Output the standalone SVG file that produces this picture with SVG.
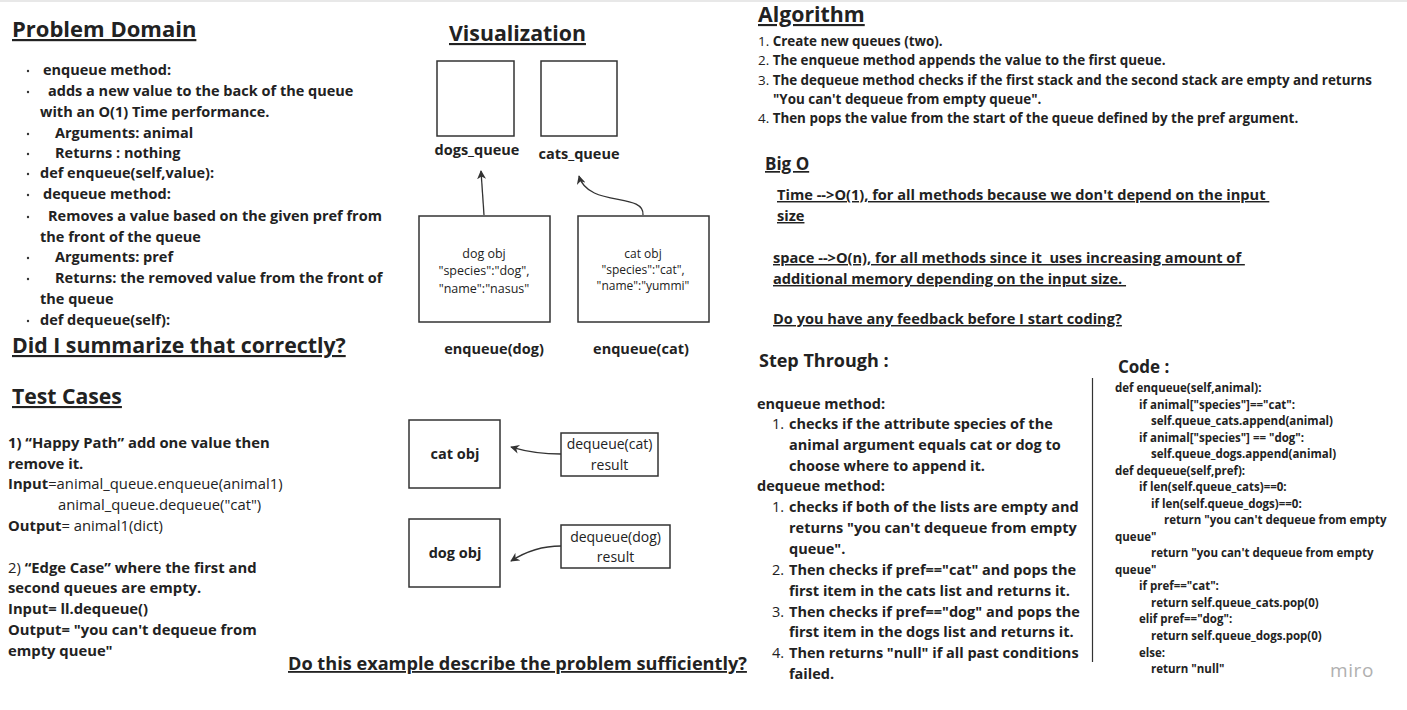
<svg xmlns="http://www.w3.org/2000/svg" width="1407" height="710" viewBox="0 0 1407 710">
<style>
text{font-family:"Open Sans","Noto Sans",sans-serif;fill:#222;}
.b{font-weight:700;}
.r{font-weight:400;}
.h1{font-size:22px;font-weight:700;text-decoration:underline;}
.h2{font-size:21px;font-weight:700;text-decoration:underline;}
.pd{font-size:14.5px;font-weight:700;}
.tc{font-size:14.8px;}
.alg{font-size:13.4px;}
.bo{font-size:14.6px;font-weight:700;text-decoration:underline;white-space:pre;}
.st{font-size:14.5px;}
.code{font-size:11.5px;font-weight:700;}
.box{fill:#fff;stroke:#333;stroke-width:1.5;}
.conn{fill:none;stroke:#333;stroke-width:1.3;}
.obj{font-size:12.5px;font-weight:400;}
.lbl{font-size:14.5px;font-weight:700;}
.dot{fill:#333;}
</style>
<defs>
<marker id="ah" viewBox="0 0 10 10" refX="9" refY="5" markerWidth="9" markerHeight="9" markerUnits="userSpaceOnUse" orient="auto">
<path d="M0,0 L10,5 L0,10 L3,5 z" fill="#333"/>
</marker>
</defs>
<rect x="0" y="0" width="1407" height="710" fill="#fff"/>
<rect x="0" y="0" width="1407" height="2" fill="#e8e8e8"/>

<g id="problem-domain">
<text x="12" y="37" class="h1">Problem Domain</text>
<g class="dot">
<circle cx="28" cy="71" r="1.2"/><circle cx="28" cy="92" r="1.2"/><circle cx="28" cy="134" r="1.2"/><circle cx="28" cy="154" r="1.2"/><circle cx="28" cy="174" r="1.2"/><circle cx="28" cy="195" r="1.2"/><circle cx="28" cy="217" r="1.2"/><circle cx="28" cy="258" r="1.2"/><circle cx="28" cy="279" r="1.2"/><circle cx="28" cy="321" r="1.2"/>
</g>
<text class="pd" x="43" y="75">enqueue method:</text>
<text class="pd" x="48" y="96">adds a new value to the back of the queue</text>
<text class="pd" x="40" y="117">with an O(1) Time performance.</text>
<text class="pd" x="55" y="138">Arguments: animal</text>
<text class="pd" x="55" y="158">Returns : nothing</text>
<text class="pd" x="40" y="178">def enqueue(self,value):</text>
<text class="pd" x="43" y="199">dequeue method:</text>
<text class="pd" x="48" y="221">Removes a value based on the given pref from</text>
<text class="pd" x="40" y="242">the front of the queue</text>
<text class="pd" x="55" y="262">Arguments: pref</text>
<text class="pd" x="55" y="283">Returns: the removed value from the front of</text>
<text class="pd" x="40" y="304">the queue</text>
<text class="pd" x="40" y="325">def dequeue(self):</text>
<text x="12" y="353" style="font-size:21.3px;font-weight:700;text-decoration:underline">Did I summarize that correctly?</text>
</g>

<g id="test-cases">
<text x="12" y="404" style="font-size:21.2px;font-weight:700;text-decoration:underline">Test Cases</text>
<text class="tc b" x="8" y="448"> 1) “Happy Path” add one value then</text>
<text class="tc b" x="8" y="469">remove it.</text>
<text class="tc" x="8" y="489"><tspan class="b">Input</tspan><tspan class="r">=animal_queue.enqueue(animal1)</tspan></text>
<text class="tc r" x="58" y="510">animal_queue.dequeue("cat")</text>
<text class="tc" x="8" y="531"><tspan class="b">Output</tspan><tspan class="r">= animal1(dict)</tspan></text>
<text class="tc" x="8" y="573"><tspan class="r">2) </tspan><tspan class="b">“Edge Case” where the first and</tspan></text>
<text class="tc b" x="8" y="593">second queues are empty.</text>
<text class="tc b" x="8" y="614">Input= ll.dequeue()</text>
<text class="tc b" x="8" y="635">Output= "you can't dequeue from</text>
<text class="tc b" x="8" y="656">empty queue"</text>
</g>

<g id="visualization">
<text x="449" y="41" style="font-size:21.3px;font-weight:700;text-decoration:underline">Visualization</text>
</g>
<g id="dogs-queue">
<rect class="box" x="437" y="61" width="77" height="75"/>
<text class="lbl" x="477" y="155" text-anchor="middle">dogs_queue</text>
</g>
<g id="cats-queue">
<rect class="box" x="541" y="61" width="76" height="75"/>
<text class="lbl" x="579" y="159" text-anchor="middle">cats_queue</text>
</g>
<g id="dog-obj-enqueue">
<rect class="box" x="419" y="216" width="131" height="106"/>
<text class="obj" x="484" y="258" text-anchor="middle">dog obj</text>
<text class="obj" x="484" y="275" text-anchor="middle">"species":"dog",</text>
<text class="obj" x="484" y="293" text-anchor="middle">"name":"nasus"</text>
<text class="lbl" x="494" y="354" text-anchor="middle">enqueue(dog)</text>
</g>
<g id="cat-obj-enqueue">
<rect class="box" x="578" y="216" width="131" height="106"/>
<text class="obj" x="643" y="258" text-anchor="middle" style="font-size:12px">cat obj</text>
<text class="obj" x="643" y="274" text-anchor="middle" style="font-size:12px">"species":"cat",</text>
<text class="obj" x="643" y="290" text-anchor="middle" style="font-size:12px">"name":"yummi"</text>
<text class="lbl" x="641" y="354" text-anchor="middle">enqueue(cat)</text>
</g>
<g id="cat-obj-result">
<rect class="box" x="409" y="420" width="91" height="68"/>
<text class="lbl" x="455" y="459" text-anchor="middle">cat obj</text>
</g>
<g id="dog-obj-result">
<rect class="box" x="409" y="519" width="91" height="68"/>
<text class="lbl" x="455" y="558" text-anchor="middle">dog obj</text>
</g>
<g id="dequeue-cat">
<rect class="box" x="561" y="433" width="97" height="43"/>
<text class="obj" x="609.5" y="449" text-anchor="middle" style="font-size:14px">dequeue(cat)</text>
<text class="obj" x="609.5" y="470" text-anchor="middle" style="font-size:14px">result</text>
</g>
<g id="dequeue-dog">
<rect class="box" x="561" y="525" width="109" height="43"/>
<text class="obj" x="615.5" y="542" text-anchor="middle" style="font-size:14px">dequeue(dog)</text>
<text class="obj" x="615.5" y="562" text-anchor="middle" style="font-size:14px">result</text>
</g>

<g id="connectors">
<path class="conn" d="M484,215 L481,171" marker-end="url(#ah)"/>
<path class="conn" d="M643,215 C645,192 588,208 579,176" marker-end="url(#ah)"/>
<path class="conn" d="M561,454 C540,454 525,451 511,447" marker-end="url(#ah)"/>
<path class="conn" d="M561,546 C540,546 525,552 511,561" marker-end="url(#ah)"/>
</g>

<g id="question">
<text x="288" y="670" style="font-size:18.15px;font-weight:700;text-decoration:underline">Do this example describe the problem sufficiently?</text>
</g>

<g id="algorithm">
<text x="758" y="22" style="font-size:21.3px;font-weight:700;text-decoration:underline">Algorithm</text>
<text class="alg" x="758" y="46"><tspan class="r">1. </tspan><tspan class="b">Create new queues (two).</tspan></text>
<text class="alg" x="758" y="65"><tspan class="r">2. </tspan><tspan class="b">The enqueue method appends the value to the first queue.</tspan></text>
<text class="alg" x="758" y="85"><tspan class="r">3. </tspan><tspan class="b">The dequeue method checks if the first stack and the second stack are empty and returns</tspan></text>
<text class="alg b" x="773" y="104">"You can't dequeue from empty queue".</text>
<text class="alg" x="758" y="123"><tspan class="r">4. </tspan><tspan class="b">Then pops the value from the start of the queue defined by the pref argument.</tspan></text>
</g>

<g id="big-o">
<text x="765" y="170" style="font-size:17px;font-weight:700;text-decoration:underline">Big O</text>
<text class="bo" x="777" y="200" xml:space="preserve">Time --&gt;O(1), for all methods because we don't depend on the input </text>
<text class="bo" x="777" y="221">size</text>
<text class="bo" x="773" y="263" xml:space="preserve">space --&gt;O(n), for all methods since it  uses increasing amount of </text>
<text class="bo" x="773" y="284" xml:space="preserve">additional memory depending on the input size. </text>
<text class="bo" x="773" y="324">Do you have any feedback before I start coding?</text>
</g>

<g id="step-through">
<text x="759" y="367" style="font-size:18px;font-weight:700">Step Through :</text>
<text class="st b" x="757" y="409">enqueue method:</text>
<text class="st r" x="772" y="429">1.</text>
<text class="st b" x="789" y="429">checks if the attribute species of the</text>
<text class="st b" x="789" y="450">animal argument equals cat or dog to</text>
<text class="st b" x="789" y="471">choose where to append it.</text>
<text class="st b" x="757" y="491">dequeue method:</text>
<text class="st r" x="772" y="512">1.</text>
<text class="st b" x="789" y="512">checks if both of the lists are empty and</text>
<text class="st b" x="789" y="533">returns "you can't dequeue from empty</text>
<text class="st b" x="789" y="554">queue".</text>
<text class="st r" x="772" y="575">2.</text>
<text class="st b" x="789" y="575">Then checks if pref=="cat" and pops the</text>
<text class="st b" x="789" y="596">first item in the cats list and returns it.</text>
<text class="st r" x="772" y="617">3.</text>
<text class="st b" x="789" y="617">Then checks if pref=="dog" and pops the</text>
<text class="st b" x="789" y="637">first item in the dogs list and returns it.</text>
<text class="st r" x="772" y="658">4.</text>
<text class="st b" x="789" y="658">Then returns "null" if all past conditions</text>
<text class="st b" x="789" y="679">failed.</text>
</g>

<g id="divider">
<line x1="1092.5" y1="378" x2="1092.5" y2="662" stroke="#333" stroke-width="1.2"/>
</g>

<g id="code">
<text x="1118" y="373" style="font-size:17px;font-weight:700">Code :</text>
<text class="code" x="1115" y="392">def enqueue(self,animal):</text>
<text class="code" x="1139" y="409">if animal["species"]=="cat":</text>
<text class="code" x="1151" y="425">self.queue_cats.append(animal)</text>
<text class="code" x="1139" y="442">if animal["species"] == "dog":</text>
<text class="code" x="1151" y="458">self.queue_dogs.append(animal)</text>
<text class="code" x="1115" y="475">def dequeue(self,pref):</text>
<text class="code" x="1139" y="491">if len(self.queue_cats)==0:</text>
<text class="code" x="1151" y="508">if len(self.queue_dogs)==0:</text>
<text class="code" x="1164" y="524">return "you can't dequeue from empty</text>
<text class="code" x="1115" y="541">queue"</text>
<text class="code" x="1151" y="557">return "you can't dequeue from empty</text>
<text class="code" x="1115" y="574">queue"</text>
<text class="code" x="1139" y="590">if pref=="cat":</text>
<text class="code" x="1151" y="607">return self.queue_cats.pop(0)</text>
<text class="code" x="1139" y="623">elif pref=="dog":</text>
<text class="code" x="1151" y="640">return self.queue_dogs.pop(0)</text>
<text class="code" x="1139" y="657">else:</text>
<text class="code" x="1151" y="673">return "null"</text>
</g>

<g id="watermark">
<text x="1330" y="677" style="font-size:19px;font-weight:400;fill:#b0b0b0;letter-spacing:0.6px">miro</text>
</g>
</svg>
